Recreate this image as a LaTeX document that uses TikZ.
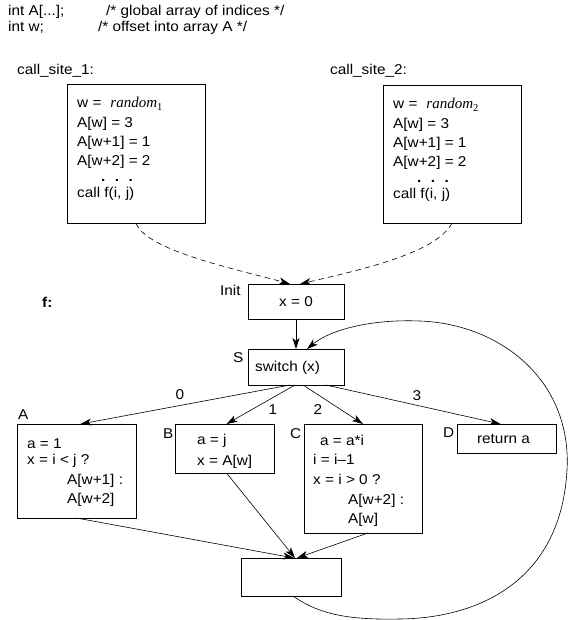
\documentclass[tikz,border=0pt]{standalone}
\usepackage{fontspec}
\setmainfont{Liberation Sans}[FakeStretch=1.08]
\newfontfamily\rserif{Liberation Serif}
\usetikzlibrary{arrows.meta,calc}
\newcommand{\rnd}[1]{{\rserif\itshape\fontsize{15}{17}\selectfont random}\raisebox{-3pt}{\rserif\fontsize{10.5}{10.5}\selectfont #1}}
\begin{document}
\begin{tikzpicture}[x=1pt,y=-1pt,
  every node/.style={font=\fontsize{14.2}{17}\selectfont},
  box/.style={draw, line width=0.8pt, inner sep=0pt, outer sep=0pt, anchor=north west},
  txt/.style={anchor=base west, inner sep=0pt},
  dotrow/.style={anchor=center, inner sep=0pt, font=\fontsize{14.2}{17}\selectfont\bfseries},
  edgelbl/.style={anchor=center, inner sep=0pt},
  edge/.style={line width=0.6pt, -{Stealth[length=11pt,width=7pt,inset=3pt]}},
  dashedge/.style={edge, dash pattern=on 5.5pt off 4pt}]
\useasboundingbox (0,0) rectangle (568,620);

% header
\node[txt] (h1) at (8,16) {int A[...];};
\node[txt] (h1c) at (106,16) {/* global array of indices */};
\node[txt] (h2) at (8,32) {int w;};
\node[txt] (h2c) at (98,32) {/* offset into array A */};

% call sites
\node[txt] (cs1l) at (17,75) {call\_site\_1:};
\node[txt] (cs2l) at (330,75) {call\_site\_2:};
\node[box, minimum width=138pt, minimum height=139pt] (cs1) at (67,84) {};
\node[box, minimum width=138pt, minimum height=138pt] (cs2) at (383,85) {};

\node[txt] (c1a) at (77,108) {w =\hspace{9pt}\rnd{1}};
\node[txt] (c1b) at (77,128) {A[w] = 3};
\node[txt] (c1c) at (77,147) {A[w+1] = 1};
\node[txt] (c1d) at (77,166) {A[w+2] = 2};
\node[dotrow] (c1e) at (117,180) {.\hspace{9.6pt}.\hspace{9.6pt}.};
\node[txt] (c1f) at (77,198) {call f(i, j)};

\node[txt] (c2a) at (393,109) {w =\hspace{9pt}\rnd{2}};
\node[txt] (c2b) at (393,129) {A[w] = 3};
\node[txt] (c2c) at (393,148) {A[w+1] = 1};
\node[txt] (c2d) at (393,167) {A[w+2] = 2};
\node[dotrow] (c2e) at (433,181) {.\hspace{9.6pt}.\hspace{9.6pt}.};
\node[txt] (c2f) at (393,199) {call f(i, j)};

% f
\node[txt, font=\fontsize{14.2}{17}\selectfont\bfseries] (fl) at (42,307) {f:};

% Init and S
\node[box, minimum width=96pt, minimum height=35pt] (Init) at (248,284) {};
\node[anchor=center, inner sep=0pt] (Initt) at (Init.center) {x = 0};
\node[txt] (Initl) at (220,295) {Init};
\node[box, minimum width=96pt, minimum height=36pt] (S) at (248,349) {};
\node[txt] (St) at (255,371) {switch (x)};
\node[txt] (Sl) at (233,362) {S};

% A B C D
\node[box, minimum width=119pt, minimum height=94pt] (A) at (17,424) {};
\node[txt] (Al) at (18,419) {A};
\node[txt] (A1) at (27,448) {a = 1};
\node[txt] (A2) at (27,464) {x = i < j ?};
\node[txt] (A3) at (67,484) {A[w+1] :};
\node[txt] (A4) at (67,503) {A[w+2]};

\node[box, minimum width=99pt, minimum height=49pt] (B) at (175,424) {};
\node[txt] (Bl) at (163,438) {B};
\node[txt] (B1) at (197,444) {a = j};
\node[txt] (B2) at (197,465) {x = A[w]};

\node[box, minimum width=118pt, minimum height=109pt] (C) at (304,424) {};
\node[txt] (Cl) at (290,438) {C};
\node[txt] (C1) at (320,445) {a = a*i};
\node[txt] (C2) at (313,464) {i = i--1};
\node[txt] (C3) at (313,484) {x = i > 0 ?};
\node[txt] (C4) at (348,504) {A[w+2] :};
\node[txt] (C5) at (348,523) {A[w]};

\node[box, minimum width=99pt, minimum height=29pt] (D) at (457,424) {};
\node[txt] (Dl) at (443,437) {D};
\node[anchor=center, inner sep=0pt] (Dt) at ([xshift=-3pt]D.center) {return a};

\node[box, minimum width=100pt, minimum height=38pt] (E) at (241,558) {};

% edge labels
\node[edgelbl] (l0) at (180,395) {0};
\node[edgelbl] (l1) at (273,410) {1};
\node[edgelbl] (l2) at (318,410) {2};
\node[edgelbl] (l3) at (417,396) {3};

% connectors
\draw[dashedge] (cs1.south) .. controls +(10,28) and +(-50,-14) .. ([xshift=-6pt]Init.north);
\draw[dashedge] (cs2.south) .. controls +(-15,30) and +(60,-14) .. ([xshift=4pt]Init.north);
\draw[edge] (Init.south) -- (S.north);
\draw[edge] ([xshift=-6pt]S.south) -- ([xshift=4pt]A.north);
\draw[edge] ([xshift=-1pt]S.south) -- ([xshift=2pt]B.north);
\draw[edge] ([xshift=7pt]S.south) -- (C.north);
\draw[edge] ([xshift=30pt]S.south) -- ([xshift=-6pt]D.north);
\draw[edge] (A.south) -- ([xshift=3pt]E.north);
\draw[edge] ([xshift=2pt]B.south) -- ([xshift=4pt]E.north);
\draw[edge] ([xshift=5pt]C.south) -- ([xshift=6pt]E.north);
\draw[edge] ([xshift=2pt]E.south) .. controls +(27,19) and (350,620) .. (400,619)
  .. controls (480,618) and (561,580) .. (567,470)
  .. controls (572,380) and (500,324) .. (420,321)
  .. controls (370,319) and (330,330) .. ([xshift=11pt]S.north);
\end{tikzpicture}
\end{document}
